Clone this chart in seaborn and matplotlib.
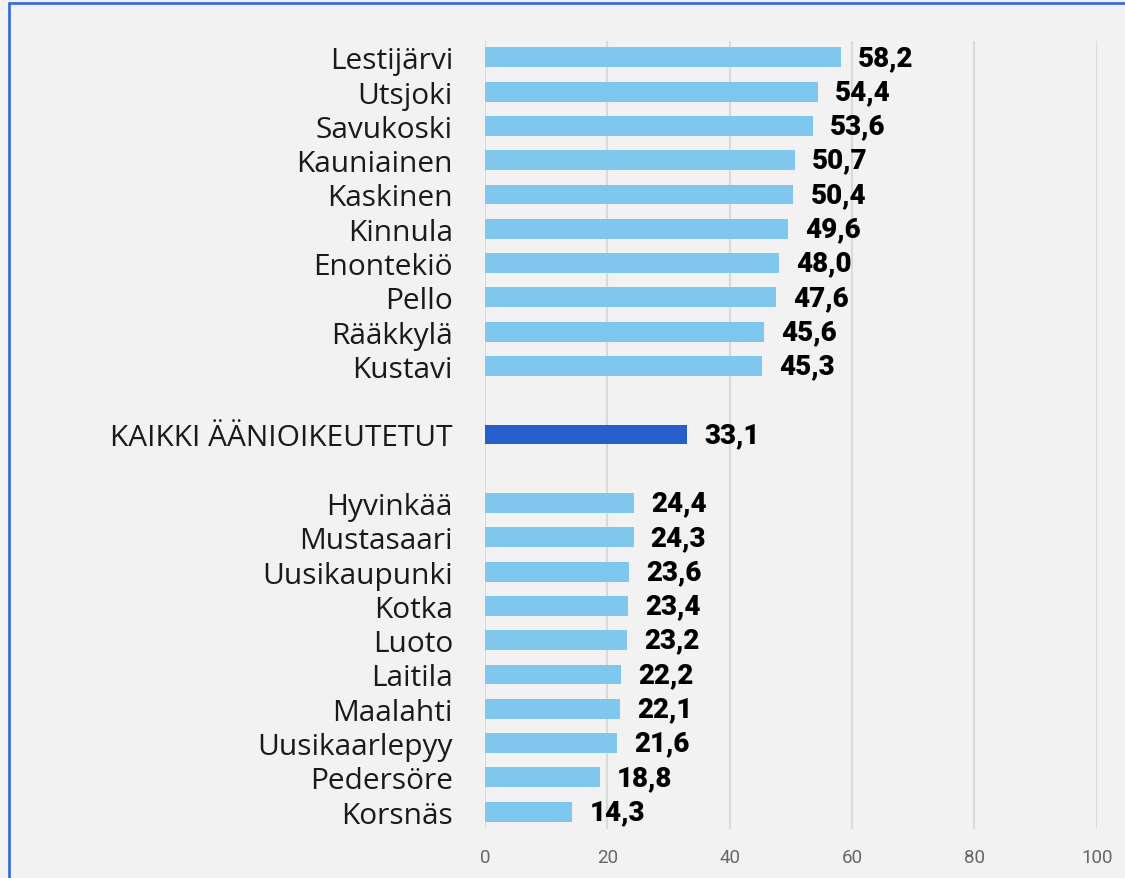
import numpy as np
import pandas as pd
import matplotlib
matplotlib.use("Agg")
import matplotlib.pyplot as plt
from matplotlib.lines import Line2D
import seaborn as sns

top_names = ["Lestijärvi", "Utsjoki", "Savukoski", "Kauniainen", "Kaskinen",
             "Kinnula", "Enontekiö", "Pello", "Rääkkylä", "Kustavi"]
top_values = [58.2, 54.4, 53.6, 50.7, 50.4, 49.6, 48.0, 47.6, 45.6, 45.3]
total_name = "KAIKKI ÄÄNIOIKEUTETUT"
total_value = 33.1
bottom_names = ["Hyvinkää", "Mustasaari", "Uusikaupunki", "Kotka", "Luoto",
                "Laitila", "Maalahti", "Uusikaarlepyy", "Pedersöre", "Korsnäs"]
bottom_values = [24.4, 24.3, 23.6, 23.4, 23.2, 22.2, 22.1, 21.6, 18.8, 14.3]
x_ticks = [0, 20, 40, 60, 80, 100]

labels = top_names + [" "] + [total_name] + ["  "] + bottom_names
values = top_values + [np.nan] + [total_value] + [np.nan] + bottom_values
groups = ["kunta"] * 10 + ["kunta"] + ["kaikki"] + ["kunta"] + ["kunta"] * 10
df = pd.DataFrame({"nimi": labels, "osuus": values, "ryhma": groups})

sns.set_style("white")
plt.rcParams["font.family"] = ["Open Sans", "DejaVu Sans"]

fig = plt.figure(figsize=(11.25, 8.79), dpi=100, facecolor="#f2f2f2")
ax = fig.add_axes([0.431, 0.056, 0.544, 0.896])
ax.set_facecolor("#f2f2f2")

sns.barplot(data=df, x="osuus", y="nimi", hue="ryhma", order=labels,
            palette={"kunta": "#80c7f0", "kaikki": "#245fcc"},
            width=0.58, legend=False, dodge=False, ax=ax, saturation=1,
            linewidth=0)

for i, v in enumerate(values):
    if not np.isnan(v):
        ax.text(v + 2.8, i, f"{v:.1f}".replace(".", ","), va="center", ha="left",
                fontsize=20, fontweight="black", family=["Roboto", "DejaVu Sans"],
                color="black")

ax.set_xlim(0, 100)
ax.set_ylim(22.5, -0.47)
ax.set_xticks(x_ticks)
ax.set_xticklabels([str(t) for t in x_ticks], color="#666666", fontsize=13.5,
                   family=["Liberation Sans Narrow", "Roboto", "DejaVu Sans"])
ax.tick_params(axis="x", length=0, pad=14)
ax.tick_params(axis="y", length=0, pad=23, labelsize=21.5, labelcolor="#1a1a1a")
ax.grid(axis="x", color="#dadada", linewidth=1.5)
ax.set_axisbelow(True)
for s in ax.spines.values():
    s.set_visible(False)
ax.set_xlabel("")
ax.set_ylabel("")

# sininen kehys
fig.add_artist(Line2D([9 / 1125, 9 / 1125], [0, 1 - 4 / 879], transform=fig.transFigure,
                      color="#3a6fd8", linewidth=2))
fig.add_artist(Line2D([9 / 1125, 1], [1 - 4 / 879, 1 - 4 / 879], transform=fig.transFigure,
                      color="#3a6fd8", linewidth=2))

plt.savefig("out.png", dpi=100, facecolor=fig.get_facecolor())
